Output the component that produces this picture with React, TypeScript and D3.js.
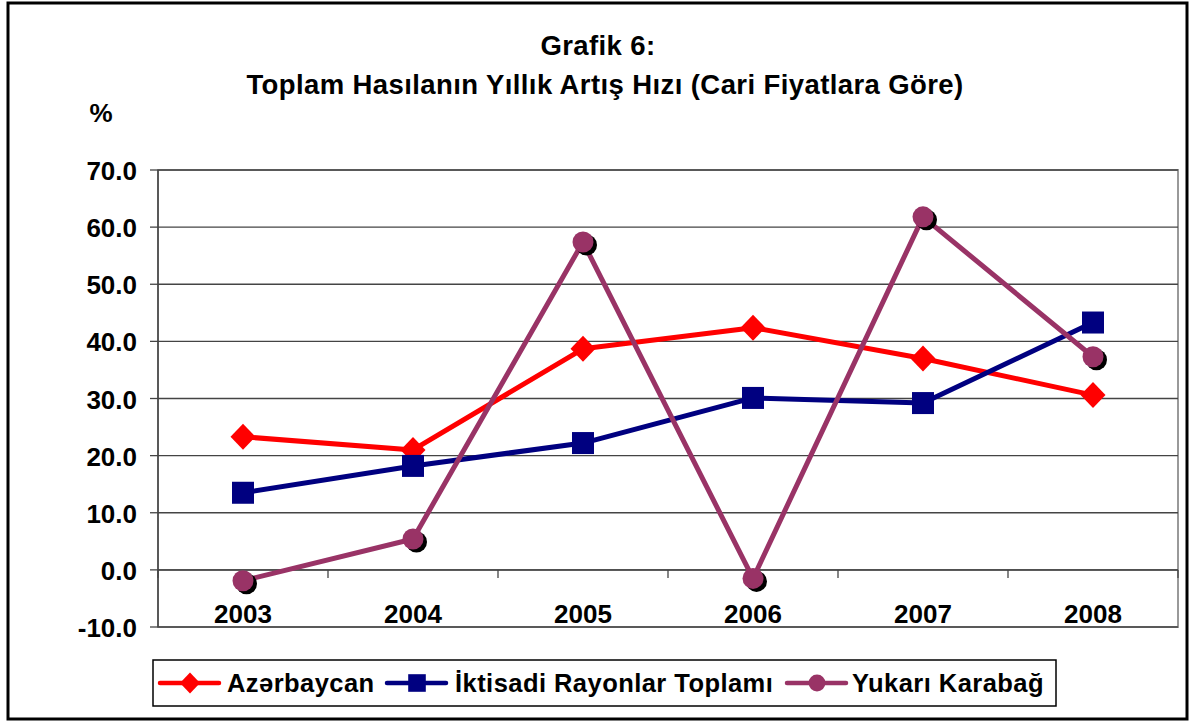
import React from 'react';
import * as d3 from 'd3';

const years = ['2003', '2004', '2005', '2006', '2007', '2008'];
const azerbaycan = [23.3, 21.0, 38.7, 42.4, 37.0, 30.6];
const iktisadi = [13.5, 18.2, 22.2, 30.1, 29.2, 43.3];
const yukari = [-1.9, 5.4, 57.4, -1.5, 61.8, 37.3];
const yTicks = [70, 60, 50, 40, 30, 20, 10, 0, -10];

const W = 1192;
const H = 723;
const left = 158;
const right = 1178;
const top = 170;
const bottom = 627;
const font = '"Liberation Sans", Arial, sans-serif';

const series = [
  { name: 'Azərbaycan', values: azerbaycan, color: '#ff0000', shape: 'diamond' },
  { name: 'İktisadi Rayonlar Toplamı', values: iktisadi, color: '#000080', shape: 'square' },
  { name: 'Yukarı Karabağ', values: yukari, color: '#993366', shape: 'circle' },
];

function Marker({ shape, x, y, color, size = 1, shadow = true }: { shape: string; x: number; y: number; color: string; size?: number; shadow?: boolean }) {
  if (shape === 'diamond') {
    const rx = 12.5 * size;
    const ry = 13 * size;
    return <path d={`M${x},${y - ry}L${x + rx},${y}L${x},${y + ry}L${x - rx},${y}Z`} fill={color} />;
  }
  if (shape === 'square') {
    const s = 22 * size;
    return <rect x={x - s / 2} y={y - s / 2} width={s} height={s} fill={color} />;
  }
  const r = 10.5 * size;
  return (
    <g>
      {shadow && <circle cx={x + 3.5} cy={y + 3} r={r} fill="#000" />}
      <circle cx={x} cy={y} r={r} fill={color} />
    </g>
  );
}

export default function App() {
  const x = d3.scaleBand().domain(years).range([left, right]);
  const y = d3.scaleLinear().domain([-10, 70]).range([bottom, top]);
  const cx = (d: string) => (x(d) as number) + x.bandwidth() / 2;
  const line = d3.line<number>().x((_, i) => cx(years[i])).y((v) => y(v));

  // legend entry: line start, text start
  const legendItems = [
    { x: 160, tx: 227 },
    { x: 387, tx: 455 },
    { x: 787, tx: 852 },
  ];

  return (
    <svg width={W} height={H} style={{ position: 'absolute', left: 0, top: 0, background: '#fff' }}>
      <rect x={8} y={3} width={1179} height={716} fill="#fff" stroke="#000" strokeWidth={3} />

      <text x={598} y={55} textAnchor="middle" fontFamily={font} fontWeight="bold" fontSize={27.5} letterSpacing={0.4}>Grafik 6:</text>
      <text x={605} y={94} textAnchor="middle" fontFamily={font} fontWeight="bold" fontSize={27.5} letterSpacing={0.4}>
        Toplam Hasılanın Yıllık Artış Hızı (Cari Fiyatlara Göre)
      </text>
      <text x={101} y={122} textAnchor="middle" fontFamily={font} fontWeight="bold" fontSize={26}>%</text>

      {/* plot frame */}
      <rect x={left} y={top} width={right - left} height={bottom - top} fill="none" stroke="#999" strokeWidth={2} />

      {yTicks.map((t) => (
        <g key={t}>
          <line x1={left} x2={right} y1={y(t)} y2={y(t)} stroke="#444" strokeWidth={1.3} />
          <line x1={left - 8} x2={left} y1={y(t)} y2={y(t)} stroke="#444" strokeWidth={1.3} />
          <text x={137} y={y(t) + 10} textAnchor="end" fontFamily={font} fontWeight="bold" fontSize={26}>
            {t.toFixed(1)}
          </text>
        </g>
      ))}
      <line x1={left} x2={left} y1={top} y2={bottom} stroke="#444" strokeWidth={1.5} />

      {/* category axis at zero */}
      <line x1={left} x2={right} y1={y(0)} y2={y(0)} stroke="#444" strokeWidth={1.5} />
      {years.map((yr) => (
        <line key={'t' + yr} x1={x(yr) as number} x2={x(yr) as number} y1={y(0)} y2={y(0) + 8} stroke="#444" strokeWidth={1.3} />
      ))}
      <line x1={right} x2={right} y1={y(0)} y2={y(0) + 8} stroke="#444" strokeWidth={1.3} />
      {years.map((yr) => (
        <text key={'l' + yr} x={cx(yr)} y={623} textAnchor="middle" fontFamily={font} fontWeight="bold" fontSize={26}>
          {yr}
        </text>
      ))}

      {series.map((s) => (
        <g key={s.name}>
          <path d={line(s.values) || ''} fill="none" stroke={s.color} strokeWidth={5} strokeLinejoin="round" />
          {s.values.map((v, i) => (
            <Marker key={i} shape={s.shape} x={cx(years[i])} y={y(v)} color={s.color} />
          ))}
        </g>
      ))}

      {/* legend */}
      <rect x={153} y={660} width={903} height={46} fill="#fff" stroke="#000" strokeWidth={1.5} />
      {series.map((s, i) => {
        const li = legendItems[i];
        const ly = 683;
        return (
          <g key={'lg' + s.name}>
            <line x1={li.x} x2={li.x + 59} y1={ly} y2={ly} stroke={s.color} strokeWidth={4.5} strokeLinecap="round" />
            <Marker shape={s.shape} x={li.x + 30} y={ly} color={s.color} size={0.8} shadow={false} />
            <text x={li.tx} y={692} fontFamily={font} fontWeight="bold" fontSize={25.5} letterSpacing={0.45}>
              {s.name}
            </text>
          </g>
        );
      })}
    </svg>
  );
}
